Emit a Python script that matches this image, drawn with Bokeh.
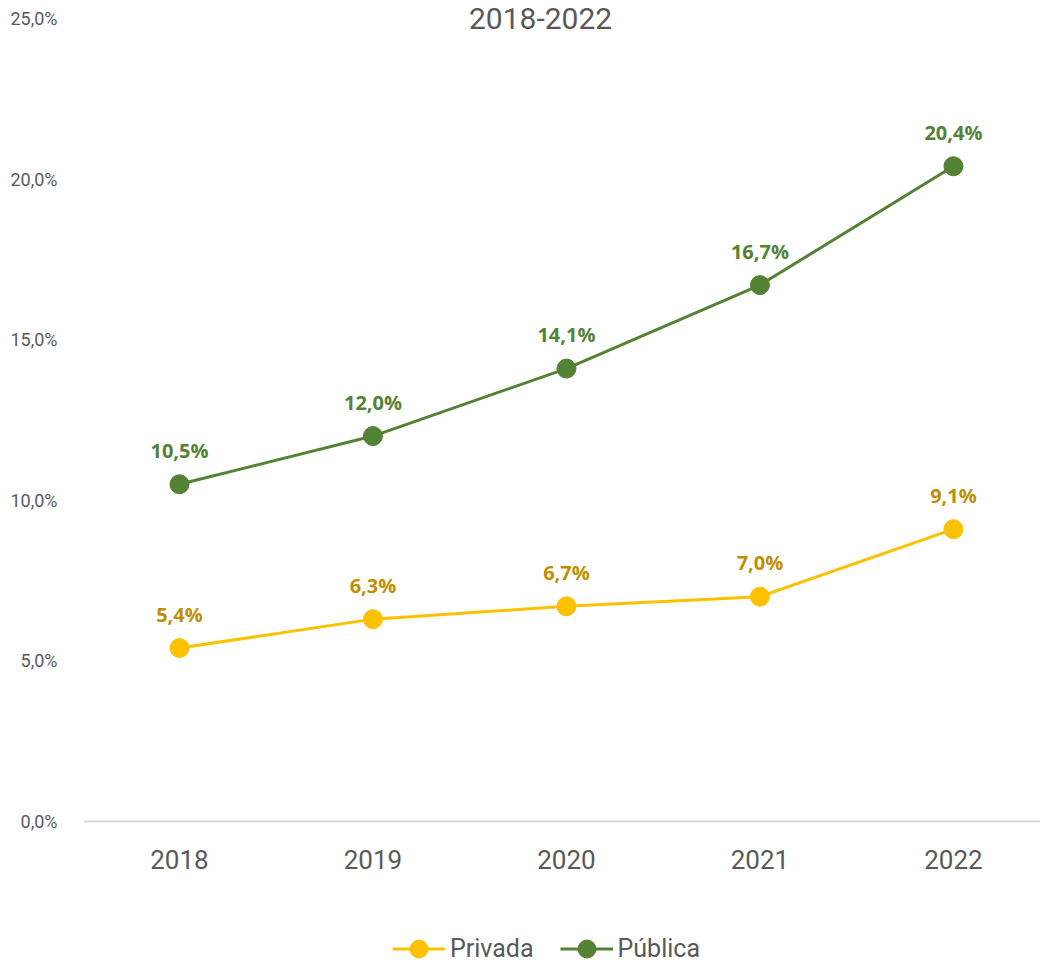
from bokeh.plotting import figure
from bokeh.layouts import column
from bokeh.models import FixedTicker, Label, Legend, LegendItem, ColumnDataSource, Range1d
from bokeh.core.properties import value
from bokeh.embed import file_html
from bokeh.resources import INLINE

# ---- data ----
years = ["2018", "2019", "2020", "2021", "2022"]
privada = [5.4, 6.3, 6.7, 7.0, 9.1]
publica = [10.5, 12.0, 14.1, 16.7, 20.4]
series_names = ["Privada", "Pública"]
y_ticks = [0, 5, 10, 15, 20, 25]
y_tick_labels = ["0,0%", "5,0%", "10,0%", "15,0%", "20,0%", "25,0%"]
title_text = "2018-2022"

# ---- styles ----
GREEN = "#548235"
YELLOW = "#FFC000"
YELLOW_TXT = "#BF8F00"
GRAY = "#595959"
FONT = "Roboto"

x = list(range(len(years)))

def fmt(v):
    return f"{v:.1f}%".replace(".", ",")

src_pub = ColumnDataSource(dict(x=x, y=publica, lab=[fmt(v) for v in publica]))
src_pri = ColumnDataSource(dict(x=x, y=privada, lab=[fmt(v) for v in privada]))

p = figure(width=1040, height=900, output_backend="svg", toolbar_location=None,
           x_range=Range1d(-0.496, 4.45), y_range=Range1d(0, 25.56),
           min_border_left=83, min_border_right=0, min_border_top=0, min_border_bottom=79)
p.outline_line_color = None
p.xgrid.visible = False
p.ygrid.visible = False

# y axis
p.yaxis.ticker = FixedTicker(ticks=y_ticks)
p.yaxis.major_label_overrides = {t: l for t, l in zip(y_ticks, y_tick_labels)}
p.yaxis.axis_line_color = None
p.yaxis.major_tick_line_color = None
p.yaxis.minor_tick_line_color = None
p.yaxis.major_label_text_font = FONT
p.yaxis.major_label_text_font_size = "18px"
p.yaxis.major_label_text_color = GRAY
p.yaxis.major_label_standoff = 20

# x axis
p.xaxis.ticker = FixedTicker(ticks=x)
p.xaxis.major_label_overrides = {i: yr for i, yr in zip(x, years)}
p.xaxis.axis_line_color = "#D9D9D9"
p.xaxis.axis_line_width = 2
p.xaxis.major_tick_line_color = None
p.xaxis.minor_tick_line_color = None
p.xaxis.major_label_text_font = FONT
p.xaxis.major_label_text_font_size = "26px"
p.xaxis.major_label_text_color = GRAY
p.xaxis.major_label_standoff = 22

# series
p.line("x", "y", source=src_pri, line_color=YELLOW, line_width=3)
p.scatter("x", "y", source=src_pri, size=19, fill_color=YELLOW, line_color=YELLOW)
p.line("x", "y", source=src_pub, line_color=GREEN, line_width=3)
p.scatter("x", "y", source=src_pub, size=19, fill_color=GREEN, line_color=GREEN)

for src, col in ((src_pri, YELLOW_TXT), (src_pub, GREEN)):
    p.text("x", "y", text="lab", source=src, y_offset=-34,
           text_font=value("Open Sans"), text_font_style="bold", text_font_size="20px",
           text_color=col, text_align="center", text_baseline="middle")

# title
p.add_layout(Label(x=1.866, y=25, text=title_text, text_font=FONT,
                   text_font_size="30px", text_color=GRAY,
                   text_align="center", text_baseline="middle"))

# ---- legend strip (same sources; its view range keeps the marks out of sight) ----
p2 = figure(width=1040, height=72, output_backend="svg", toolbar_location=None,
            x_range=Range1d(0, 1), y_range=Range1d(-2, -1),
            min_border_left=83, min_border_right=0, min_border_top=0, min_border_bottom=0)
p2.axis.visible = False
p2.grid.visible = False
p2.outline_line_color = None
k_pri_l = p2.line("x", "y", source=src_pri, line_color=YELLOW, line_width=3)
k_pri_s = p2.scatter("x", "y", source=src_pri, fill_color=YELLOW, line_color=YELLOW)
k_pub_l = p2.line("x", "y", source=src_pub, line_color=GREEN, line_width=3)
k_pub_s = p2.scatter("x", "y", source=src_pub, fill_color=GREEN, line_color=GREEN)

legend = Legend(items=[LegendItem(label=series_names[0], renderers=[k_pri_l, k_pri_s]),
                       LegendItem(label=series_names[1], renderers=[k_pub_l, k_pub_s])],
                orientation="horizontal", location=(309, 1),
                label_text_font=FONT, label_text_font_size="25px",
                label_text_color=GRAY, glyph_width=53, glyph_height=45,
                label_standoff=5, spacing=26, padding=0, margin=0,
                border_line_color=None, background_fill_alpha=0)
p2.add_layout(legend, "center")

layout = column(p, p2, spacing=0)
open("out.html", "w").write(file_html(layout, INLINE))
